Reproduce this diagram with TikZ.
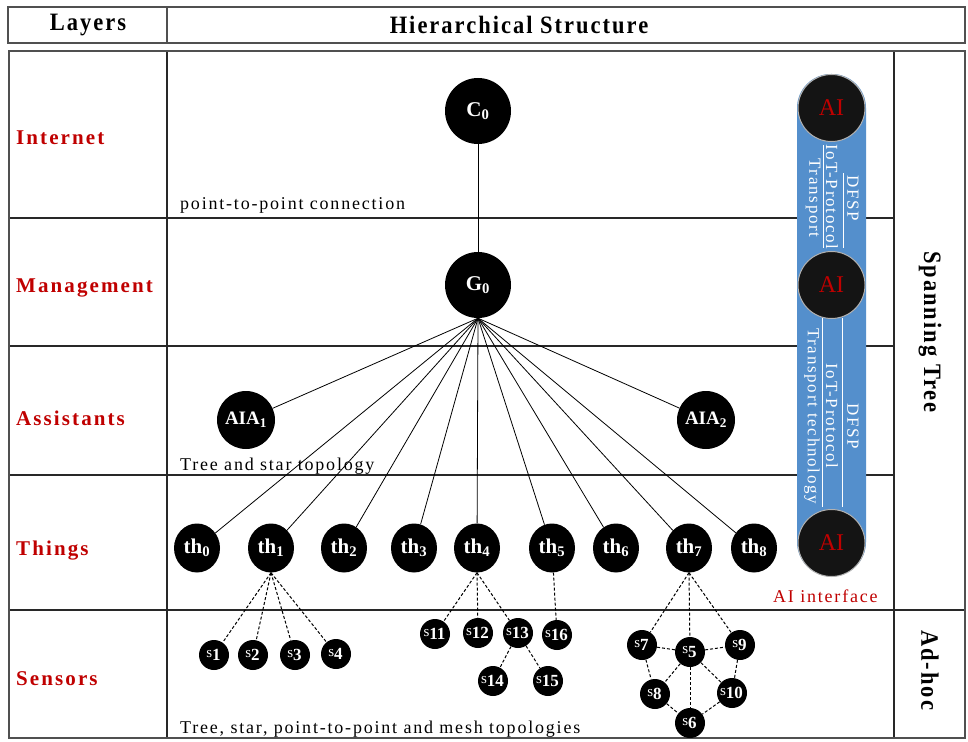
\documentclass[tikz,border=0pt]{standalone}
\usepackage{fontspec}
\setmainfont{Liberation Serif}
\newfontfamily\spaced{Liberation Serif}[LetterSpace=10]
\newfontfamily\headfont{Liberation Serif}[LetterSpace=8, FakeStretch=0.9]
\usetikzlibrary{shapes.geometric}

\definecolor{layerred}{RGB}{192,0,0}
\definecolor{pillblue}{RGB}{84,143,204}
\definecolor{framegray}{RGB}{80,80,80}
\definecolor{rulegray}{RGB}{40,40,40}

\newcommand{\sname}[1]{\kern-1pt{\fontsize{15}{15}\selectfont s}\raisebox{-3.5pt}{\fontsize{17}{17}\selectfont\bfseries #1}}

\tikzset{
  frame/.style={draw=framegray, line width=2pt},
  rule/.style={draw=rulegray, line width=1.2pt},
  headtxt/.style={font=\headfont\fontsize{25}{25}\selectfont\bfseries, inner sep=0pt},
  layer/.style={font=\spaced\fontsize{21}{21}\selectfont\bfseries, text=layerred, inner sep=0pt, anchor=west},
  note/.style={font=\spaced\fontsize{18}{18}\selectfont, inner sep=0pt},
  big/.style={circle, fill=black, text=white, minimum size=66pt, inner sep=0pt,
              font=\fontsize{21}{21}\selectfont\bfseries},
  aia/.style={circle, fill=black, text=white, minimum size=58pt, inner sep=0pt,
              font=\fontsize{19}{19}\selectfont\bfseries},
  thing/.style={ellipse, fill=black, text=white, minimum width=46pt, minimum height=49pt, inner sep=0pt,
              font=\fontsize{21}{21}\selectfont\bfseries},
  sensor/.style={circle, fill=black, text=white, minimum size=30pt, inner sep=0pt},
  ainode/.style={circle, fill=black!92, draw=gray!60, line width=1pt, minimum size=67pt, inner sep=0pt,
              text=layerred, font=\fontsize{24}{24}\selectfont},
  pilltxt/.style={rotate=-90, text=white, inner sep=0pt, font=\spaced\fontsize{17}{17}\selectfont},
  link/.style={draw=black, line width=0.8pt},
  dlink/.style={draw=black, line width=1pt, dash pattern=on 3pt off 2pt}
}

\begin{document}
\begin{tikzpicture}[x=1pt,y=-1pt]
\useasboundingbox (0,0) rectangle (968,741);
\fill[white] (0,0) rectangle (968,741);

% header row
\draw[frame] (8,7) rectangle (965,43);
\draw[frame] (167,7) -- (167,43);
\node[headtxt] (hlayers) at (88,25) {Layers};
\node[headtxt] (hstruct) at (519,25) {Hierarchical Structure};

% body grid
\draw[rule] (167,51) -- (167,738);
\draw[rule] (894,51) -- (894,738);
\foreach \yy in {218,346,475} \draw[rule] (9,\yy) -- (894,\yy);
\draw[rule] (9,610) -- (965,610);
\draw[frame] (9,51) rectangle (965,738);

% layer names
\node[layer] (linternet) at (16,138) {Internet};
\node[layer] (lmanage) at (16,288) {Management};
\node[layer] (lassist) at (16,418) {Assistants};
\node[layer] (lthings) at (16,551) {Things};
\node[layer] (lsensors) at (16,679) {Sensors};

% right column
\node[headtxt, rotate=-90] (lspan) at (930,332) {Spanning Tree};
\node[headtxt, rotate=-90] (ladhoc) at (930,670) {Ad-hoc};

% topology notes
\node[note, anchor=base west] (n1) at (180,209) {point-to-point connection};
\node[note, anchor=base west] (n2) at (180,470) {Tree and star topology};
\node[note, anchor=base west] (n3) at (180,733) {Tree, star, point-to-point and mesh topologies};
\node[note, anchor=base west, text=layerred] (n4) at (773,602) {AI interface};

% cloud, gateway and assistants
\node[big] (C0) at (478,111) {C\textsubscript{0}};
\node[big] (G0) at (478,285) {G\textsubscript{0}};
\node[aia] (A1) at (246,420) {AIA\textsubscript{1}};
\node[aia] (A2) at (706,420) {AIA\textsubscript{2}};

% things
\foreach \i/\xx in {0/197,1/271,2/344,3/414,4/477,5/552,6/616,7/689,8/754}
  \node[thing] (th\i) at (\xx,548) {th\textsubscript{\i}};

% sensors
\node[sensor] (s1) at (214,655) {\sname{1}};
\node[sensor] (s2) at (253,655) {\sname{2}};
\node[sensor] (s3) at (295,655) {\sname{3}};
\node[sensor] (s4) at (336,654) {\sname{4}};
\node[sensor] (s11) at (435,634) {\sname{11}};
\node[sensor] (s12) at (478,633) {\sname{12}};
\node[sensor] (s13) at (518,633) {\sname{13}};
\node[sensor] (s16) at (557,635) {\sname{16}};
\node[sensor] (s14) at (493,681) {\sname{14}};
\node[sensor] (s15) at (548,681) {\sname{15}};
\node[sensor] (s7) at (642,645) {\sname{7}};
\node[sensor] (s5) at (690,652) {\sname{5}};
\node[sensor] (s9) at (740,645) {\sname{9}};
\node[sensor] (s8) at (655,694) {\sname{8}};
\node[sensor] (s10) at (732,693) {\sname{10}};
\node[sensor] (s6) at (690,723) {\sname{6}};

% solid links
\draw[link] (C0) -- (G0);
\foreach \t in {A1,A2,th0,th1,th2,th3,th4,th5,th6,th7,th8}
  \draw[link] (G0.south) -- (\t);

% dashed sensor links
\foreach \t in {s1,s2,s3,s4} \draw[dlink] (th1.south) -- (\t);
\foreach \t in {s11,s12,s13} \draw[dlink] (th4.south) -- (\t);
\foreach \t in {s14,s15} \draw[dlink] (s13) -- (\t);
\draw[dlink] (th5) -- (s16);
\foreach \t in {s7,s5,s9} \draw[dlink] (th7.south) -- (\t);
\foreach \a/\b in {s7/s5,s5/s9,s7/s8,s9/s10,s5/s8,s5/s10,s5/s6,s8/s6,s10/s6}
  \draw[dlink] (\a) -- (\b);

% AI interface column
\fill[pillblue, rounded corners=34pt] (797,74) rectangle (866,576);
\draw[white, line width=0.8pt] (823,145) -- (823,248);
\draw[white, line width=0.8pt] (843,173) -- (843,248);
\draw[white, line width=0.8pt] (822,318) -- (822,507);
\draw[white, line width=0.8pt] (842,318) -- (842,507);
\node[pilltxt] (p1a) at (813,198) {Transport};
\node[pilltxt] (p1b) at (832,197) {IoT-Protocol};
\node[pilltxt] (p1c) at (853,198) {DFSP};
\node[pilltxt] (p2a) at (812,416) {Transport technology};
\node[pilltxt] (p2b) at (832,416) {IoT-Protocol};
\node[pilltxt] (p2c) at (853,426) {DFSP};
\node[ainode] (ai1) at (831.5,108) {AI};
\node[ainode] (ai2) at (831.5,285) {AI};
\node[ainode] (ai3) at (831.5,543) {AI};
\end{tikzpicture}
\end{document}
